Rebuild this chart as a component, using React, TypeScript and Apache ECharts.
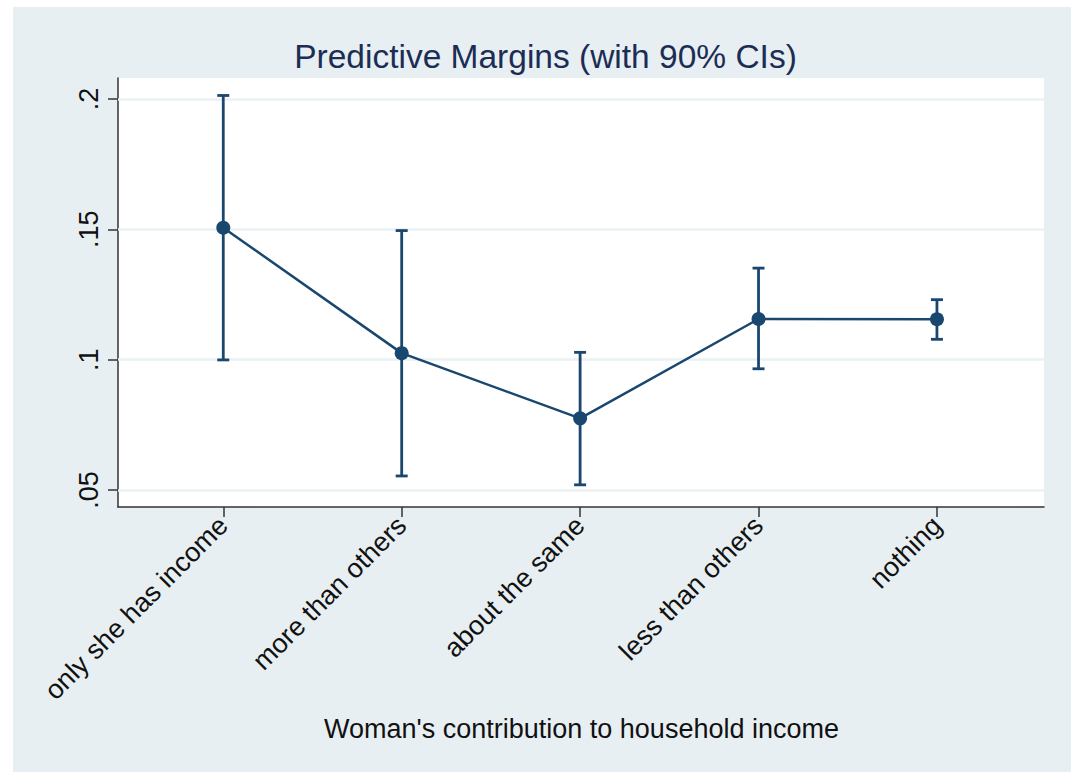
import React, { useEffect, useRef } from "react";
import * as echarts from "echarts";

const categories = [
  "only she has income",
  "more than others",
  "about the same",
  "less than others",
  "nothing",
];
const margins = [0.1506, 0.1025, 0.0775, 0.1156, 0.1155];
const ciLow = [0.0999, 0.0554, 0.052, 0.0965, 0.1078];
const ciHigh = [0.2013, 0.1495, 0.1028, 0.1351, 0.123];
const yTicks = [0.05, 0.1, 0.15, 0.2];
const xPositions = [1, 2, 3, 4, 5];

const NAVY = "#1a476f";
const FONT = "Liberation Sans, Arial, sans-serif";

export default function App() {
  const ref = useRef<HTMLDivElement>(null);

  useEffect(() => {
    if (!ref.current) return;
    const chart = echarts.init(ref.current, undefined, { renderer: "svg" });
    const pointData = xPositions.map((x, i) => [x, margins[i]]);
    const barData = xPositions.map((x, i) => [x, ciLow[i], ciHigh[i]]);

    chart.setOption({
      animation: false,
      backgroundColor: "#e8eff2",
      textStyle: { fontFamily: FONT },
      graphic: [
        {
          type: "text",
          x: 532.5,
          y: 49,
          style: {
            text: "Predictive Margins (with 90% CIs)",
            fontSize: 33.5,
            fontFamily: FONT,
            fill: "#1c2d55",
            textAlign: "center",
            textVerticalAlign: "middle",
          },
        },
        {
          type: "text",
          x: 568.5,
          y: 722,
          style: {
            text: "Woman's contribution to household income",
            fontSize: 27,
            fontFamily: FONT,
            fill: "#111111",
            textAlign: "center",
            textVerticalAlign: "middle",
          },
        },
      ],
      grid: {
        left: 105,
        top: 71,
        right: 27,
        bottom: 265,
        show: true,
        backgroundColor: "#ffffff",
        borderWidth: 0,
      },
      xAxis: {
        type: "value",
        min: 0.41,
        max: 5.6,
        axisLine: { show: true, onZero: false, lineStyle: { color: "#333333", width: 1.5 } },
        axisTick: {
          show: true,
          length: 10,
          customValues: xPositions,
          lineStyle: { color: "#333333", width: 1.5 },
        },
        axisLabel: {
          customValues: xPositions,
          rotate: 45,
          margin: 14,
          fontSize: 27,
          fontFamily: FONT,
          color: "#111111",
          formatter: (v: number) => categories[Math.round(v) - 1] ?? "",
        },
        splitLine: { show: false },
      },
      yAxis: {
        type: "value",
        min: 0.0435,
        max: 0.208,
        axisLine: { show: true, lineStyle: { color: "#333333", width: 1.5 } },
        axisTick: {
          show: true,
          length: 10,
          customValues: yTicks,
          lineStyle: { color: "#333333", width: 1.5 },
        },
        axisLabel: {
          customValues: yTicks,
          rotate: 90,
          margin: 16,
          fontSize: 27,
          fontFamily: FONT,
          color: "#111111",
          formatter: (v: number) => String(Number(v.toFixed(4))).replace(/^0\./, "."),
        },
        splitLine: { show: false },
      },
      series: [
        {
          type: "line",
          data: [],
          silent: true,
          z: 1,
          markLine: {
            silent: true,
            z: 1,
            symbol: "none",
            label: { show: false },
            lineStyle: { color: "#eaf2f3", width: 2.5, type: "solid" },
            data: yTicks.map((v) => ({ yAxis: v })),
          },
        },
        {
          type: "custom",
          z: 3,
          data: barData,
          encode: { x: 0, y: [1, 2] },
          renderItem: (params: any, api: any) => {
            const x = api.value(0);
            const lo = api.coord([x, api.value(1)]);
            const hi = api.coord([x, api.value(2)]);
            const hw = 6;
            const style = { stroke: NAVY, lineWidth: 2.8 };
            return {
              type: "group",
              children: [
                { type: "line", shape: { x1: lo[0], y1: lo[1], x2: hi[0], y2: hi[1] }, style },
                { type: "line", shape: { x1: lo[0] - hw, y1: lo[1], x2: lo[0] + hw, y2: lo[1] }, style },
                { type: "line", shape: { x1: hi[0] - hw, y1: hi[1], x2: hi[0] + hw, y2: hi[1] }, style },
              ],
            };
          },
        },
        {
          type: "line",
          z: 4,
          clip: false,
          data: pointData,
          symbol: "circle",
          symbolSize: 14,
          showAllSymbol: true,
          lineStyle: { color: NAVY, width: 2.5 },
          itemStyle: { color: NAVY },
        },
      ],
    });

    return () => chart.dispose();
  }, []);

  return (
    <div
      style={{
        position: "fixed",
        left: 0,
        top: 0,
        width: 1071,
        height: 772,
        background: "#ffffff",
      }}
    >
      <div
        ref={ref}
        style={{ position: "absolute", left: 13, top: 7, width: 1058, height: 765 }}
      />
    </div>
  );
}
